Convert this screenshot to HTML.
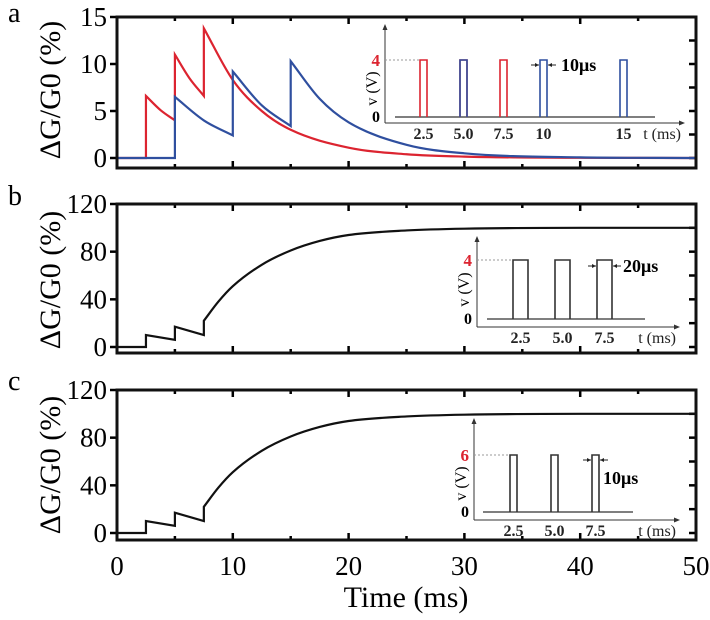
<!DOCTYPE html>
<html><head><meta charset="utf-8"><style>
html,body{margin:0;padding:0;background:#fff;}
svg, svg text{font-family:"Liberation Serif","Times New Roman","DejaVu Serif",serif;}
</style></head><body>
<svg id="fig" width="710" height="615" viewBox="0 0 710 615"></svg>
<script>
// ---- data ----
const redT=[0,2.5,2.5,3.75,5,5,6.25,7.5,7.5,10,12.5,15,20,25,30,40,50];
const redV=[0,0,6.6,5.1,4.0,11,8.5,6.6,13.8,8.3,5.0,3.0,1.1,0.4,0.15,0.02,0];
const blueT=[0,5,5,7.5,10,10,12.5,15,15,17.5,20,25,30,40,50];
const blueV=[0,0,6.5,4.0,2.4,9.2,5.6,3.4,10.3,6.3,3.8,1.4,0.5,0.07,0];
const bT=[0,2.5,2.5,5,5,7.5,7.5,8.75,10,12.5,15,17.5,20,25,30,40,50];
const bV=[0,0,10,6,17,10,22,38,51,69,81,89,94,97.8,99.3,100,100];
const cT=[0,2.5,2.5,5,5,7.5,7.5,8.75,10,12.5,15,17.5,20,25,30,40,50];
const cV=[0,0,10,6,17,10,22,38,51,69,81,89,94,97.8,99.3,100,100];
const xTicks=[0,10,20,30,40,50];
const aTicks=[0,5,10,15];
const bcTicks=[0,40,80,120];
// insets
const insARed=[2.5,5,7.5];
const insABlue=[5,10,15];
const insATicks=["2.5","5.0","7.5","10","15"];
const insATickV=[2.5,5,7.5,10,15];
const insBPulses=[2.5,5,7.5];
const insCPulses=[2.5,5,7.5];
const insBCTicks=["2.5","5.0","7.5"];
const insBCTickV=[2.5,5,7.5];

const NS="http://www.w3.org/2000/svg";
const svg=document.getElementById('fig');
function el(tag,attrs,parent,text){const e=document.createElementNS(NS,tag);for(const k in attrs)e.setAttribute(k,attrs[k]);if(tag==='text')e.style.fontFamily='"Liberation Serif","Times New Roman","DejaVu Serif",serif';if(text!==undefined)e.textContent=text;(parent||svg).appendChild(e);return e;}

const X0=117,X1=696;
const xs=t=>X0+(t/50)*(X1-X0);
const panels=[
 {id:'a',top:17,zero:158,bottom:168,max:15,ticks:aTicks,minor:2.5,letterY:22,titleY:90},
 {id:'b',top:204,zero:347,bottom:353,max:120,ticks:bcTicks,minor:20,letterY:205,titleY:280},
 {id:'c',top:390,zero:533,bottom:540,max:120,ticks:bcTicks,minor:20,letterY:390,titleY:465}
];
function ysF(p){return v=>p.zero-(v/p.max)*(p.zero-(p.top));}

function monotonePath(T,V,xsf,ysf){
  let groups=[],cur=[[T[0],V[0]]];
  for(let i=1;i<T.length;i++){
    if(T[i]===T[i-1]){groups.push(cur);cur=[[T[i],V[i]]];}else cur.push([T[i],V[i]]);
  }
  groups.push(cur);
  let d='';
  groups.forEach((g,gi)=>{
    const P=g.map(p=>[xsf(p[0]),ysf(p[1])]);
    d+=(gi===0?'M':'L')+P[0][0].toFixed(2)+','+P[0][1].toFixed(2);
    const n=P.length;
    if(n<3){for(let i=1;i<n;i++)d+='L'+P[i][0].toFixed(2)+','+P[i][1].toFixed(2);return;}
    const dx=[],m=[],s=[];
    for(let i=0;i<n-1;i++){dx[i]=P[i+1][0]-P[i][0];s[i]=(P[i+1][1]-P[i][1])/dx[i];}
    m[0]=s[0];m[n-1]=s[n-2];
    for(let i=1;i<n-1;i++){m[i]=(s[i-1]*s[i]<=0)?0:(s[i-1]+s[i])/2;}
    for(let i=0;i<n-1;i++){
      if(s[i]===0){m[i]=0;m[i+1]=0;continue;}
      const a=m[i]/s[i],b=m[i+1]/s[i],h=a*a+b*b;
      if(h>9){const t=3/Math.sqrt(h);m[i]=t*a*s[i];m[i+1]=t*b*s[i];}
    }
    for(let i=0;i<n-1;i++){
      const h=dx[i];
      d+='C'+(P[i][0]+h/3).toFixed(2)+','+(P[i][1]+m[i]*h/3).toFixed(2)+' '+(P[i+1][0]-h/3).toFixed(2)+','+(P[i+1][1]-m[i+1]*h/3).toFixed(2)+' '+P[i+1][0].toFixed(2)+','+P[i+1][1].toFixed(2);
    }
  });
  return d;
}

panels.forEach(p=>{
  const g=el('g',{});
  
  
  const ys=ysF(p);
  const lt=el('text',{x:8,y:p.letterY,'font-size':28},g,p.id);
  
  
  const yt=el('text',{x:0,y:0,'font-size':30,'text-anchor':'middle',transform:`translate(60,${p.titleY}) rotate(-90)`},g,'ΔG/G0 (%)');
  
  
  for(let t=0;t<=50;t+=5){
    const major=t%10===0, L=major?7:4;
    const x=xs(t);
    el('line',{x1:x,x2:x,y1:p.bottom,y2:p.bottom-L,stroke:'#000','stroke-width':2.5},g);
    el('line',{x1:x,x2:x,y1:p.top,y2:p.top+L,stroke:'#000','stroke-width':2.5},g);
  }
  for(let v=0;v<=p.max+1e-6;v+=p.minor){
    const y=ys(v);
    const major=p.ticks.some(tk=>Math.abs(tk-v)<1e-6);
    el('line',{x1:X0,x2:X0-(major?7:0),y1:y,y2:y,stroke:'#000','stroke-width':2.5},g);
    el('line',{x1:X1,x2:X1-7,y1:y,y2:y,stroke:'#000','stroke-width':2.5},g);
  }
  p.ticks.forEach(v=>{
    const tx=el('text',{x:107,y:ys(v)+9,'font-size':27,'text-anchor':'end'},g,String(v));
    
    
  });
  p.g=g;p.ys=ys;
});

function series(p,T,V,color,name){
  const path=el('path',{d:monotonePath(T,V,xs,p.ys),fill:'none',stroke:color,'stroke-width':2.2},p.g);
  
  
}
series(panels[0],redT,redV,'#dc2430','red-curve-a');
series(panels[0],blueT,blueV,'#2f4f9f','blue-curve-a');
series(panels[1],bT,bV,'#111','curve-b');
series(panels[2],cT,cV,'#111','curve-c');

panels.forEach(p=>{
  const fr=el('rect',{x:X0,y:p.top,width:X1-X0,height:p.bottom-p.top,fill:'none',stroke:'#111','stroke-width':3},p.g);
  
  
});

xTicks.forEach(t=>{
  const tx=el('text',{x:xs(t),y:575,'font-size':27,'text-anchor':'middle'},svg,String(t));
  
  
});
const xt=el('text',{x:406,y:607,'font-size':30,'text-anchor':'middle'},svg,'Time (ms)');



// ---- insets ----
function inset(cfg){
  const g=el('g',{});
  
  
  const ix=t=>cfg.ox+t*cfg.k;
  el('line',{x1:cfg.ax,y1:cfg.axisY,x2:cfg.ax,y2:cfg.topY+4,stroke:'#333','stroke-width':1},g);
  el('path',{d:`M${cfg.ax-2.5},${cfg.topY+6}L${cfg.ax},${cfg.topY}L${cfg.ax+2.5},${cfg.topY+6}Z`,fill:'#333'},g);
  el('line',{x1:cfg.ax,y1:cfg.axisY,x2:cfg.arrowX-4,y2:cfg.axisY,stroke:'#333','stroke-width':1},g);
  el('path',{d:`M${cfg.arrowX-6},${cfg.axisY-2.5}L${cfg.arrowX},${cfg.axisY}L${cfg.arrowX-6},${cfg.axisY+2.5}Z`,fill:'#333'},g);
  el('line',{x1:cfg.ax,y1:cfg.hiY,x2:ix(cfg.pulses[0][0]),y2:cfg.hiY,stroke:'#999','stroke-width':1,'stroke-dasharray':'2,2'},g);
  el('line',{x1:cfg.b0,y1:cfg.loY,x2:cfg.b1,y2:cfg.loY,stroke:'#333','stroke-width':1.2},g);
  cfg.pulses.forEach(([t,col],i)=>{
    const x=ix(t),w=cfg.w;
    const r=el('path',{d:`M${x},${cfg.loY}V${cfg.hiY}H${x+w}V${cfg.loY}`,fill:'none',stroke:col,'stroke-width':1.6},g);
    
    
  });
  cfg.tickV.forEach((v,i)=>{
    el('text',{x:ix(v)+(cfg.w/2),y:cfg.axisY+16,'font-size':16,'font-weight':'bold','text-anchor':'middle',fill:'#222'},g,cfg.tickL[i]);
  });
  el('text',{x:cfg.arrowX-4,y:cfg.axisY+16,'font-size':16,'text-anchor':'end',fill:'#222'},g,'t (ms)');
  el('text',{x:cfg.ax-5,y:cfg.loY+5,'font-size':16,'font-weight':'bold','text-anchor':'end'},g,'0');
  el('text',{x:cfg.ax-5,y:cfg.hiY+6,'font-size':17,'font-weight':'bold','text-anchor':'end',fill:'#dc2430'},g,cfg.hiL);
  el('text',{x:0,y:0,'font-size':16,'text-anchor':'middle',transform:`translate(${cfg.ax-8},${(cfg.hiY+cfg.loY)/2}) rotate(-90)`},g,'v (V)');
  const px=ix(cfg.annT), y=cfg.annY;
  el('line',{x1:px-9,y1:y,x2:px-1,y2:y,stroke:'#222','stroke-width':1},g);
  el('path',{d:`M${px-1},${y}l-4,-2v4z`,fill:'#222'},g);
  el('line',{x1:px+cfg.w+1,y1:y,x2:px+cfg.w+9,y2:y,stroke:'#222','stroke-width':1},g);
  el('path',{d:`M${px+cfg.w+1},${y}l4,-2v4z`,fill:'#222'},g);
  el('text',{x:cfg.annX,y:cfg.annTY,'font-size':18,'font-weight':'bold'},g,cfg.ann);
}
const RED='#dc2430',BLUE='#2f4f9f';
inset({id:'a',ox:380,k:16,ax:385,axisY:123,topY:24,arrowX:685,loY:117,hiY:60,b0:395,b1:655,w:7,
  pulses:[...insARed.map(t=>[t,RED]),...insABlue.map(t=>[t,BLUE])],tickV:insATickV,tickL:insATicks,hiL:'4',
  annT:10,annY:65,ann:'10μs',annX:561,annTY:71});
inset({id:'b',ox:471,k:16.8,ax:477,axisY:327,topY:236,arrowX:680,loY:319,hiY:260,b0:487,b1:645,w:15,
  pulses:insBPulses.map(t=>[t,'#333']),tickV:insBCTickV,tickL:insBCTicks,hiL:'4',
  annT:7.5,annY:266,ann:'20μs',annX:623,annTY:272});
inset({id:'c',ox:469,k:16.4,ax:474,axisY:520,topY:418,arrowX:680,loY:512,hiY:455,b0:483,b1:633,w:7,
  pulses:insCPulses.map(t=>[t,'#333']),tickV:insBCTickV,tickL:insBCTicks,hiL:'6',
  annT:7.5,annY:460,ann:'10μs',annX:603,annTY:484});
</script>
</body></html>
